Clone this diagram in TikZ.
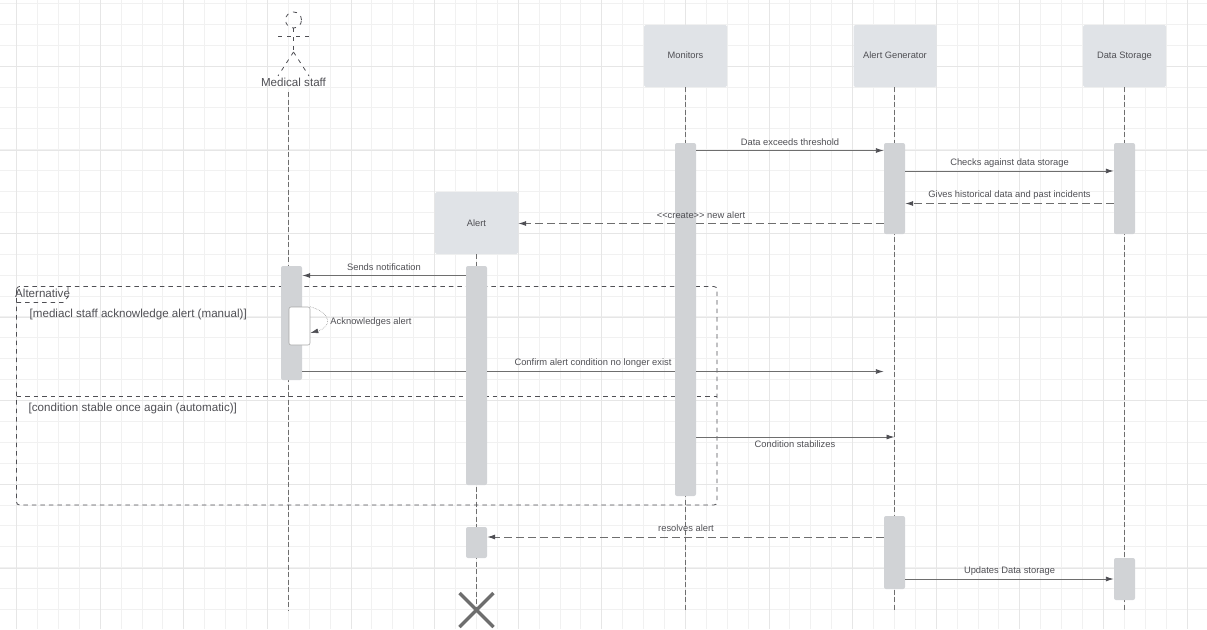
\documentclass[tikz,border=0pt]{standalone}
\usepackage{fontspec}
\setmainfont{Liberation Sans}
\usetikzlibrary{arrows.meta,positioning,calc}
\definecolor{GridMinor}{HTML}{F1F1F1}
\definecolor{GridMajor}{HTML}{E6E6E6}
\definecolor{HeadGrey}{HTML}{E0E3E7}
\definecolor{BarGrey}{HTML}{D1D3D6}
\definecolor{LineGrey}{HTML}{6E6E6E}
\definecolor{TextGrey}{HTML}{4F4F54}
\tikzset{
  headbox/.style={fill=HeadGrey,rounded corners=1.5pt,minimum width=83pt,minimum height=62pt,
    inner sep=0pt,text=TextGrey,font=\fontsize{9.3}{10}\selectfont},
  bar/.style={fill=BarGrey,rounded corners=2pt,minimum width=21pt,inner sep=0pt},
  lifeline/.style={LineGrey,dash pattern=on 5pt off 2.5pt,line width=.8pt},
  msg/.style={LineGrey,line width=.9pt,-{Latex[length=8pt,width=5pt,color=TextGrey]}},
  plainmsg/.style={LineGrey,line width=.9pt},
  reply/.style={msg,dash pattern=on 8pt off 4pt},
  plainreply/.style={plainmsg,dash pattern=on 8pt off 4pt},
  msglabel/.style={text=TextGrey,font=\fontsize{9.35}{10}\selectfont,inner sep=0pt},
  framelabel/.style={text=TextGrey,font=\fontsize{11.6}{12}\selectfont,inner sep=0pt,anchor=west},
  framedash/.style={TextGrey,line width=.8pt,dash pattern=on 4.5pt off 4pt},
  actordash/.style={TextGrey,line width=.8pt,dash pattern=on 4pt off 5pt}
}

\begin{document}
\begin{tikzpicture}[x=1pt,y=-1pt,>=Latex]
  \useasboundingbox (0,0) rectangle (1207,629);
  % grid
  \foreach \i in {0,...,57} \draw[GridMinor,line width=1pt] ({floor(-4.2+20.9*\i)+.5},0)--({floor(-4.2+20.9*\i)+.5},629);
  \foreach \i in {0,...,30} \draw[GridMinor,line width=1pt] (0,{floor(3.5+20.9*\i)+.5})--(1207,{floor(3.5+20.9*\i)+.5});
  \foreach \i in {0,...,14} \draw[GridMajor,line width=1pt] ({floor(16.7+83.6*\i)+.5},0)--({floor(16.7+83.6*\i)+.5},629);
  \foreach \i in {0,...,7} \draw[GridMajor,line width=1pt] (0,{floor(66.5+83.6*\i)+.5})--(1207,{floor(66.5+83.6*\i)+.5});

  % heads
  \node[headbox] (monitors) at (685.5,56) {\raisebox{1pt}{Monitors}};
  \node[headbox] (generator) at (895,56) {\raisebox{1pt}{Alert Generator}};
  \node[headbox] (storage) at (1124.5,56) {\raisebox{1pt}{Data Storage}};
  \node[headbox] (alert) at (476.5,223) {Alert};

  % actor
  \coordinate (actorHead) at (293.5,20);
  \coordinate (actorNeck) at (293.5,28);
  \coordinate (actorHip) at (293.5,52);
  \draw[actordash] (actorHead) circle (8pt);
  \draw[actordash] (actorNeck)--(actorHip);
  \draw[actordash] (278,36)--(309,36);
  \draw[actordash] (actorHip)--(278,76);
  \draw[actordash] (actorHip)--(309,76);
  \node[msglabel,font=\fontsize{11.6}{12}\selectfont] (staff) at (293.5,82) {Medical staff};

  % lifelines
  \coordinate (staffEnd) at (288.5,611);
  \coordinate (staffTop) at (288.5,92);
  \coordinate (killAlert) at (476.5,610);
  \coordinate (monitorsEnd) at (685.5,611);
  \coordinate (generatorEnd) at (894.5,611);
  \coordinate (storageEnd) at (1124.5,611);
  \draw[lifeline] (staffTop)--(staffEnd);
  \draw[lifeline] (alert.south)--(killAlert);
  \draw[lifeline] (monitors.south)--(monitorsEnd);
  \draw[lifeline] (generator.south -| generatorEnd)--(generatorEnd);
  \draw[lifeline] (storage.south)--(storageEnd);

  % alternative frame
  \draw[framedash,rounded corners=3pt] (16.5,286.5) rectangle (717,505);
  \draw[framedash] (16.5,302.5)--(63,302.5)--(68,297)--(68,286.5);
  \draw[framedash] (16.5,396.5)--(717,396.5);
  \node[framelabel] (altname) at (15,293.5) {Alternative};
  \node[framelabel] (guardone) at (29.5,314) {[mediacl staff acknowledge alert (manual)]};
  \node[framelabel] (guardtwo) at (28.5,408) {[condition stable once again (automatic)]};

  % activation bars
  \node[bar,minimum height=353pt] (monBar) at (685.5,319.5) {};
  \node[bar,minimum height=91pt] (genBar) at (894.5,188.5) {};
  \node[bar,minimum height=91pt] (stoBar) at (1124.5,188.5) {};
  \node[bar,minimum height=219pt] (aleBar) at (476.5,375.5) {};
  \node[bar,minimum height=114pt] (staBar) at (291.5,323) {};
  \node[bar,minimum height=31pt] (aleBarEnd) at (476.5,542.5) {};
  \node[bar,minimum height=73pt] (genBarEnd) at (894.5,552.5) {};
  \node[bar,minimum height=42pt] (stoBarEnd) at (1124.5,579) {};
  \node[bar,fill=white,draw=LineGrey!60,line width=.6pt,minimum height=38pt] (selfBar) at (299.5,326) {};

  % rows of the messages
  \coordinate (rowThreshold) at (0,150.5);
  \coordinate (rowChecks) at (0,171);
  \coordinate (rowHistory) at (0,203.5);
  \coordinate (rowCreate) at (0,223.5);
  \coordinate (rowNotify) at (0,275.5);
  \coordinate (rowSelf) at (0,333);
  \coordinate (rowConfirm) at (0,371.5);
  \coordinate (rowStable) at (0,437);
  \coordinate (rowResolve) at (0,537);
  \coordinate (rowUpdate) at (0,579);

  % messages
  \draw[msg] (monBar.east |- rowThreshold)--(genBar.west |- rowThreshold);
  \node[msglabel] (lblThreshold) at (790,142) {Data exceeds threshold};
  \draw[msg] (genBar.east |- rowChecks)--(stoBar.west |- rowChecks);
  \node[msglabel] (lblChecks) at (1009.5,163.5) {Checks against data storage};
  \draw[reply] (stoBar.west |- rowHistory)--(genBar.east |- rowHistory);
  \node[msglabel] (lblHistory) at (1009.5,195) {Gives historical data and past incidents};
  \draw[plainreply] (genBar.west |- rowCreate)--(monBar.east |- rowCreate);
  \draw[reply] (monBar.west |- rowCreate)--(alert.east |- rowCreate);
  \node[msglabel] (lblCreate) at (701,215) {{<}{<}create{>}{>} new alert};
  \draw[msg] (aleBar.west |- rowNotify)--(staBar.east |- rowNotify);
  \node[msglabel] (lblNotify) at (384,267) {Sends notification};
  \draw[LineGrey!70,densely dotted,line width=.6pt,-{Latex[length=8pt,width=5pt,color=TextGrey]}]
    (selfBar.north east) .. controls (332,313) and (332,327) .. (selfBar.east |- rowSelf);
  \node[msglabel] (lblSelf) at (371,322) {Acknowledges alert};
  \draw[plainmsg] (staBar.east |- rowConfirm)--(aleBar.west |- rowConfirm);
  \draw[plainmsg] (aleBar.east |- rowConfirm)--(monBar.west |- rowConfirm);
  \draw[msg] (monBar.east |- rowConfirm)--(genBarEnd.west |- rowConfirm);
  \node[msglabel] (lblConfirm) at (593,363.5) {Confirm alert condition no longer exist};
  \draw[msg] (monBar.east |- rowStable)--(generatorEnd |- rowStable);
  \node[msglabel] (lblStable) at (795,444) {Condition stabilizes};
  \draw[reply] (genBarEnd.west |- rowResolve)--(aleBarEnd.east |- rowResolve);
  \node[msglabel] (lblResolve) at (686,528) {resolves alert};
  \draw[msg] (genBarEnd.east |- rowUpdate)--(stoBarEnd.west |- rowUpdate);
  \node[msglabel] (lblUpdate) at (1009.5,571) {Updates Data storage};

  % destroy mark
  \draw[LineGrey,line width=3.5pt] ($(killAlert)+(-17,-17)$)--($(killAlert)+(17,17)$);
  \draw[LineGrey,line width=3.5pt] ($(killAlert)+(-17,17)$)--($(killAlert)+(17,-17)$);
\end{tikzpicture}
\end{document}
